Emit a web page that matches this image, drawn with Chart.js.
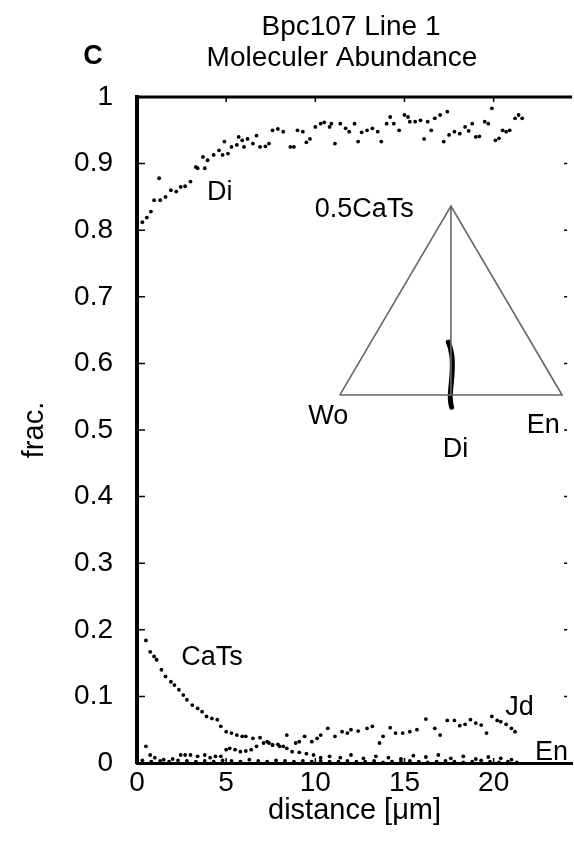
<!DOCTYPE html>
<html>
<head>
<meta charset="utf-8">
<script src="https://cdn.jsdelivr.net/npm/chart.js@4.4.1/dist/chart.umd.min.js"></script>
<style>
  html, body { margin: 0; padding: 0; background: #fff; }
  #wrap { width: 574px; height: 844px; position: relative; }
</style>
</head>
<body>
<div id="wrap"><canvas id="abundanceChart"></canvas></div>
<script>
// distance [um] / fraction, one pair of arrays per component
const diDist = [0.3, 0.55, 0.78, 0.96, 1.24, 1.3, 1.6, 1.9, 2.2, 2.45, 2.7, 3.0, 3.3, 3.4, 3.7, 3.8, 3.96, 4.3, 4.6, 4.8,
  4.9, 5.1, 5.3, 5.6, 5.7, 5.9, 6.0, 6.2, 6.5, 6.7, 6.9, 7.2, 7.4, 7.6, 7.9, 8.2, 8.6, 8.8, 9.0, 9.3,
  9.5, 9.7, 10.0, 10.3, 10.5, 10.8, 10.9, 11.1, 11.4, 11.7, 11.9, 12.2, 12.4, 12.6, 12.9, 13.2, 13.5, 13.7, 14.0, 14.2,
  14.4, 14.7, 15.0, 15.2, 15.3, 15.6, 15.9, 16.1, 16.3, 16.5, 16.7, 17.0, 17.2, 17.4, 17.5, 17.8, 18.1, 18.4, 18.6, 18.8,
  19.0, 19.2, 19.5, 19.7, 19.9, 20.1, 20.3, 20.5, 20.7, 20.9, 21.2, 21.4, 21.6];
const diFrac = [0.812, 0.819, 0.828, 0.845, 0.878, 0.845, 0.850, 0.860, 0.858, 0.865, 0.866, 0.873, 0.895, 0.893, 0.910, 0.893, 0.905, 0.913, 0.920, 0.913,
  0.933, 0.915, 0.925, 0.928, 0.940, 0.935, 0.925, 0.937, 0.930, 0.942, 0.925, 0.926, 0.930, 0.950, 0.952, 0.948, 0.925, 0.925, 0.950, 0.948,
  0.932, 0.937, 0.955, 0.960, 0.962, 0.955, 0.960, 0.930, 0.960, 0.953, 0.948, 0.960, 0.933, 0.947, 0.950, 0.953, 0.948, 0.933, 0.960, 0.970,
  0.960, 0.950, 0.973, 0.970, 0.963, 0.963, 0.965, 0.937, 0.963, 0.950, 0.968, 0.973, 0.933, 0.978, 0.943, 0.948, 0.945, 0.955, 0.949, 0.960,
  0.940, 0.941, 0.963, 0.960, 0.983, 0.935, 0.938, 0.950, 0.948, 0.950, 0.968, 0.973, 0.968];

const catsDist = [0.5, 0.74, 0.96, 1.1, 1.37, 1.6, 1.9, 2.1, 2.35, 2.6, 2.8, 3.1, 3.4, 3.65, 3.9, 4.2, 4.5, 4.7, 5.0, 5.3,
  5.6, 5.9, 6.1, 6.5, 6.9, 7.3, 7.6, 8.0, 8.4, 8.7, 9.1, 9.5, 9.9, 10.3, 10.8, 11.4, 12.0, 12.7, 13.4, 14.1,
  14.8, 15.5, 16.2, 16.9, 17.6, 18.3, 19.0, 19.7, 20.4, 21.0];
const catsFrac = [0.184, 0.167, 0.160, 0.155, 0.140, 0.130, 0.122, 0.117, 0.110, 0.102, 0.095, 0.087, 0.082, 0.077, 0.070, 0.067, 0.065, 0.055, 0.047, 0.045,
  0.042, 0.040, 0.040, 0.037, 0.038, 0.032, 0.027, 0.025, 0.022, 0.017, 0.016, 0.014, 0.012, 0.008, 0.010, 0.008, 0.012, 0.007, 0.010, 0.008,
  0.006, 0.011, 0.009, 0.012, 0.007, 0.010, 0.006, 0.009, 0.007, 0.005];

const jdDist = [0.5, 0.74, 1.0, 1.5, 2.0, 2.45, 2.7, 3.0, 3.4, 3.8, 4.1, 4.4, 4.7, 5.0, 5.2, 5.5, 5.8, 6.1, 6.4, 6.7,
  7.1, 7.4, 7.6, 7.9, 8.2, 8.4, 8.9, 9.1, 9.4, 9.8, 10.1, 10.3, 10.7, 11.1, 11.5, 11.8, 12.0, 12.4, 12.9, 13.2,
  13.6, 13.8, 14.2, 14.5, 14.9, 15.3, 15.7, 16.2, 16.7, 17.0, 17.4, 17.8, 18.1, 18.4, 18.7, 19.0, 19.3, 19.6, 19.9, 20.2,
  20.4, 20.7, 21.0, 21.2];
const jdFrac = [0.025, 0.012, 0.008, 0.005, 0.006, 0.012, 0.012, 0.012, 0.010, 0.012, 0.008, 0.010, 0.010, 0.020, 0.022, 0.020, 0.017, 0.018, 0.020, 0.025,
  0.030, 0.030, 0.027, 0.028, 0.025, 0.042, 0.030, 0.032, 0.040, 0.032, 0.037, 0.042, 0.052, 0.040, 0.047, 0.045, 0.050, 0.048, 0.052, 0.055,
  0.030, 0.040, 0.053, 0.045, 0.045, 0.047, 0.050, 0.066, 0.052, 0.042, 0.064, 0.064, 0.056, 0.058, 0.065, 0.060, 0.057, 0.045, 0.070, 0.064,
  0.062, 0.058, 0.052, 0.047];

const enDist = [0.3, 0.8, 1.3, 1.8, 2.3, 2.8, 3.3, 3.8, 4.3, 4.8, 5.3, 5.8, 6.3, 6.8, 7.3, 7.8, 8.3, 8.8, 9.3, 9.8,
  10.3, 10.8, 11.3, 11.8, 12.3, 12.8, 13.3, 13.8, 14.3, 14.8, 15.3, 15.8, 16.3, 16.8, 17.3, 17.8, 18.3, 18.8, 19.3, 19.8,
  20.3, 20.8, 21.3];
const enFrac = [0.004, 0.002, 0.003, 0.002, 0.004, 0.003, 0.002, 0.003, 0.002, 0.004, 0.003, 0.002, 0.005, 0.003, 0.002, 0.004, 0.003, 0.002, 0.003, 0.002,
  0.003, 0.002, 0.002, 0.003, 0.002, 0.002, 0.003, 0.001, 0.002, 0.002, 0.003, 0.002, 0.001, 0.002, 0.003, 0.002, 0.001, 0.002, 0.004, 0.002,
  0.001, 0.002, 0.001];

// inset ternary diagram Wo - En - 0.5CaTs (Wo = 0,0  En = 1,0  apex = 0.5,1)
const triX = [0, 0.5, 1, 0];
const triY = [0, 1, 0, 0];
const joinX = [0.5, 0.5];
const joinY = [1, 0];
const traceX = [0.488, 0.497, 0.505, 0.506, 0.503, 0.499, 0.497, 0.499, 0.503];
const traceY = [0.28, 0.25, 0.20, 0.14, 0.08, 0.03, -0.01, -0.04, -0.065];

const xTicks = [0, 5, 10, 15, 20];

const pts = (xs, ys) => xs.map((x, i) => ({ x: x, y: ys[i] }));

const FONT = "'Liberation Sans', Arial, Helvetica, sans-serif";

const notes = [
    { text: 'Di', x: 4.64, y: 0.856, sx: 'x', sy: 'y' },
    { text: 'CaTs', x: 4.2, y: 0.159, sx: 'x', sy: 'y' },
    { text: 'Jd', x: 21.45, y: 0.083, sx: 'x', sy: 'y' },
    { text: 'En', x: 23.25, y: 0.016, sx: 'x', sy: 'y' },
    { text: '0.5CaTs', x: 0.11, y: 0.98, sx: 'xt', sy: 'yt' },
    { text: 'Wo', x: -0.052, y: -0.116, sx: 'xt', sy: 'yt' },
    { text: 'En', x: 0.915, y: -0.164, sx: 'xt', sy: 'yt' },
    { text: 'Di', x: 0.521, y: -0.291, sx: 'xt', sy: 'yt' }
];

const framePlugin = {
    id: 'frame',
    afterDatasetsDraw(chart) {
        const ctx = chart.ctx;
        const a = chart.chartArea;
        const sx = chart.scales.x, sy = chart.scales.y;
        ctx.save();
        ctx.strokeStyle = '#000';
        // top border
        ctx.lineWidth = 3;
        ctx.beginPath();
        ctx.moveTo(a.left, a.top);
        ctx.lineTo(a.right, a.top);
        ctx.stroke();
        // inward ticks
        ctx.lineWidth = 1.5;
        ctx.beginPath();
        xTicks.forEach(v => {
            const px = sx.getPixelForValue(v);
            ctx.moveTo(px, a.top); ctx.lineTo(px, a.top + 5);
            ctx.moveTo(px, a.bottom); ctx.lineTo(px, a.bottom - 5);
        });
        sy.ticks.forEach(t => {
            const py = sy.getPixelForValue(t.value);
            ctx.moveTo(a.left, py); ctx.lineTo(a.left + 8, py);
            ctx.moveTo(a.right - 8, py); ctx.lineTo(a.right - 5, py);
        });
        ctx.stroke();

        // labels on the plot
        ctx.fillStyle = '#000';
        ctx.textAlign = 'center';
        ctx.textBaseline = 'middle';
        ctx.font = '27px ' + FONT;
        notes.forEach(n => {
            ctx.fillText(n.text, chart.scales[n.sx].getPixelForValue(n.x), chart.scales[n.sy].getPixelForValue(n.y));
        });

        // titles
        ctx.font = '28px ' + FONT;
        ctx.fillText('Bpc107 Line 1', 351, 27);
        ctx.fillText('Moleculer Abundance', 342, 58);
        ctx.font = 'bold 27px ' + FONT;
        ctx.fillText('C', 93, 57);
        ctx.restore();
    }
};

const ctx = document.getElementById('abundanceChart').getContext('2d');
const dotStyle = { showLine: false, pointRadius: 1.9, pointHoverRadius: 1.9, pointBackgroundColor: '#000', pointBorderWidth: 0, borderColor: '#000' };

new Chart(ctx, {
    type: 'scatter',
    data: {
        datasets: [
            Object.assign({ label: 'Di', data: pts(diDist, diFrac) }, dotStyle),
            Object.assign({ label: 'CaTs', data: pts(catsDist, catsFrac) }, dotStyle),
            Object.assign({ label: 'Jd', data: pts(jdDist, jdFrac) }, dotStyle),
            Object.assign({ label: 'En', data: pts(enDist, enFrac) }, dotStyle),
            { label: 'ternary', data: pts(triX, triY), xAxisID: 'xt', yAxisID: 'yt', showLine: true,
              borderColor: '#666', borderWidth: 1.6, pointRadius: 0 },
            { label: 'join', data: pts(joinX, joinY), xAxisID: 'xt', yAxisID: 'yt', showLine: true,
              borderColor: '#666', borderWidth: 1.6, pointRadius: 0 },
            { label: 'trace', data: pts(traceX, traceY), xAxisID: 'xt', yAxisID: 'yt', showLine: true,
              borderColor: '#000', borderWidth: 5, pointRadius: 0, borderCapStyle: 'round', tension: 0.3 }
        ]
    },
    options: {
        responsive: true,
        maintainAspectRatio: false,
        animation: false,
        events: [],
        layout: { padding: { top: 97, left: 0, right: 0, bottom: 0 } },
        plugins: { legend: { display: false }, tooltip: { enabled: false }, title: { display: false } },
        scales: {
            x: {
                type: 'linear', position: 'bottom', min: 0, max: 24.4,
                afterBuildTicks: s => { s.ticks = xTicks.map(v => ({ value: v })); },
                afterFit: s => { s.height = 81; },
                ticks: { stepSize: 5, color: '#000', padding: -5, font: { family: FONT, size: 28 } },
                grid: { display: false },
                border: { color: '#000', width: 3 },
                title: { display: true, text: 'distance [μm]', color: '#000',
                         font: { family: FONT, size: 29 }, padding: { top: 0, bottom: 16 } }
            },
            y: {
                type: 'linear', position: 'left', min: 0, max: 1,
                afterFit: s => { s.width = 137; },
                ticks: { stepSize: 0.1, color: '#000', padding: 16, font: { family: FONT, size: 28 },
                         callback: v => String(+v.toFixed(1)) },
                grid: { display: false },
                border: { color: '#000', width: 4 },
                title: { display: true, text: 'frac.', color: '#000',
                         font: { family: FONT, size: 29 }, padding: { top: 18, bottom: 0 } }
            },
            xt: { type: 'linear', axis: 'x', position: 'bottom', display: false, min: -0.912, max: 1.045 },
            yt: { type: 'linear', axis: 'y', position: 'left', display: false, min: -1.947, max: 1.577 }
        }
    },
    plugins: [framePlugin]
});
</script>
</body>
</html>
